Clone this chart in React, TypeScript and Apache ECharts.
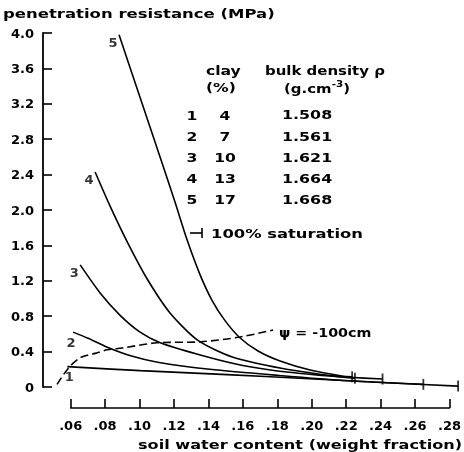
import React, { useEffect, useRef } from "react";
import * as echarts from "echarts";

// ---- data ----
const curveNames = ["1", "2", "3", "4", "5"];
const curve1: number[][] = [[0.058, 0.23], [0.1, 0.185], [0.15, 0.14], [0.2, 0.09], [0.24, 0.05], [0.283, 0.01]];
const curve2: number[][] = [[0.0613, 0.62], [0.07, 0.55], [0.081, 0.45], [0.095, 0.35], [0.11, 0.28], [0.14, 0.2], [0.18, 0.13], [0.22, 0.07], [0.263, 0.03]];
const curve3: number[][] = [[0.0654, 1.38], [0.077, 1.06], [0.0884, 0.81], [0.0999, 0.62], [0.1115, 0.5], [0.133, 0.37], [0.155, 0.26], [0.176, 0.19], [0.2, 0.14], [0.22, 0.11], [0.2395, 0.09]];
const curve4: number[][] = [[0.074, 2.43], [0.0825, 2.05], [0.093, 1.62], [0.104, 1.22], [0.117, 0.84], [0.133, 0.53], [0.153, 0.34], [0.182, 0.21], [0.213, 0.12], [0.2236, 0.1]];
const curve5: number[][] = [[0.0878, 3.98], [0.0999, 3.27], [0.1114, 2.6], [0.12, 2.09], [0.127, 1.66], [0.1344, 1.27], [0.1413, 0.98], [0.1488, 0.75], [0.1575, 0.554], [0.1678, 0.407], [0.1805, 0.294], [0.1978, 0.192], [0.2162, 0.124], [0.222, 0.115]];
const psiCurve: number[][] = [[0.0521, 0.03], [0.0585, 0.21], [0.0654, 0.33], [0.074, 0.38], [0.081, 0.42], [0.0896, 0.44], [0.1098, 0.5], [0.1345, 0.51], [0.1575, 0.565], [0.1765, 0.644]];
const curves = [curve1, curve2, curve3, curve4, curve5];

const clayPct = ["4", "7", "10", "13", "17"];
const bulkDensity = ["1.508", "1.561", "1.621", "1.664", "1.668"];
const xTickValues = [0.06, 0.08, 0.1, 0.12, 0.14, 0.16, 0.18, 0.2, 0.22, 0.24, 0.26, 0.28];
const yTickValues = [0, 0.4, 0.8, 1.2, 1.6, 2.0, 2.4, 2.8, 3.2, 3.6, 4.0];

const yTitle = "penetration resistance (MPa)";
const xTitle = "soil water content (weight fraction)";
const psiLabel = "ψ = -100cm";
const satLabel = "100% saturation";

const FONT = "DejaVu Sans";
const labelOffsets = [[2, 10], [-2, 10], [-6, 8], [-6, 8], [-6, 8]];

export default function App() {
  const ref = useRef<HTMLDivElement>(null);
  useEffect(() => {
    if (!ref.current) return;
    const chart = echarts.init(ref.current, undefined, { renderer: "svg" });
    const txt = { fontFamily: FONT, fontWeight: "bold" as const, fontSize: 13, fill: "#000" };
    const T = (text: string, x: number, y: number, sx: number, align: string = "left", extra: any = {}) => ({
      type: "text", x, y, scaleX: sx,
      style: { ...txt, text, align, verticalAlign: "middle", ...extra },
    });

    const tableRows: any[] = [];
    bulkDensity.forEach((d, i) => {
      const y = 115 + i * 21.2;
      tableRows.push(T(curveNames[i], 192, y, 1.2, "center"));
      tableRows.push(T(clayPct[i], 225, y, 1.2, "center"));
      tableRows.push(T(d, 282, y, 1.22));
    });

    chart.setOption({
      animation: false,
      grid: [
        { left: 43, top: 33, width: 417, height: 354 },
        { left: 70.7, top: 400, width: 382.3, height: 8 },
      ],
      xAxis: [
        { type: "value", gridIndex: 0, min: 0.044, max: 0.2841, show: false },
        {
          type: "value", gridIndex: 1, min: 0.06, max: 0.28, interval: 0.02,
          position: "bottom",
          axisLine: { show: true, lineStyle: { color: "#000", width: 1.6 } },
          axisTick: { show: true, inside: true, length: 9, lineStyle: { color: "#000", width: 1.6 } },
          splitLine: { show: false },
          axisLabel: {
            margin: 11, color: "#000", fontFamily: FONT, fontWeight: "bold", fontSize: 13,
            formatter: (v: number) => {
              const m = xTickValues.find((t) => Math.abs(t - v) < 1e-6);
              return m === undefined ? "" : m.toFixed(2).replace(/^0/, "");
            },
          },
        },
      ],
      yAxis: [
        {
          type: "value", gridIndex: 0, min: 0, max: 4, interval: 0.4,
          axisLine: { show: true, lineStyle: { color: "#000", width: 1.8 } },
          axisTick: { show: true, inside: true, length: 9, lineStyle: { color: "#000", width: 1.6 } },
          splitLine: { show: false },
          axisLabel: {
            margin: 9, color: "#000", fontFamily: FONT, fontWeight: "bold", fontSize: 13,
            formatter: (v: number) => {
              const m = yTickValues.find((t) => Math.abs(t - v) < 1e-6);
              if (m === undefined) return "";
              return m === 0 ? "0" : m.toFixed(1);
            },
          },
        },
        { type: "value", gridIndex: 1, show: false, min: 0, max: 1 },
      ],
      series: [
        ...curves.map((c, i) => ({
          type: "line", name: curveNames[i], data: c, xAxisIndex: 0, yAxisIndex: 0,
          symbol: "none", smooth: 0.25, lineStyle: { color: "#000", width: 1.6 }, z: 3,
        })),
        {
          type: "line", name: "psi", data: psiCurve, xAxisIndex: 0, yAxisIndex: 0,
          symbol: "none", smooth: 0.3, lineStyle: { color: "#000", width: 1.6, type: [8, 4] },
        },
        {
          type: "scatter", name: "saturation", xAxisIndex: 0, yAxisIndex: 0,
          data: curves.map((c) => c[c.length - 1]),
          symbol: "rect", symbolSize: [1.8, 11], itemStyle: { color: "#000" }, silent: true,
        },
        {
          type: "scatter", name: "labels", xAxisIndex: 0, yAxisIndex: 0,
          data: curves.map((c, i) => ({
            value: c[0],
            label: { show: true, position: "inside", offset: labelOffsets[i], formatter: curveNames[i] },
          })),
          symbolSize: 1, itemStyle: { color: "rgba(0,0,0,0)" },
          label: { color: "#000", fontFamily: FONT, fontWeight: "bold", fontSize: 13 },
          silent: true,
        },
      ],
      graphic: [
        T(yTitle, 3, 14, 1.27),
        T(xTitle, 138, 444, 1.24),
        T("clay", 206, 70, 1.2),
        T("(%)", 206, 87, 1.2),
        T("bulk density ρ", 265, 70, 1.15),
        {
          type: "text", x: 284, y: 88, scaleX: 1.15,
          style: {
            ...txt, text: "(g.cm{sup|-3})", verticalAlign: "middle",
            rich: { sup: { fontFamily: FONT, fontWeight: "bold", fontSize: 9, padding: [0, 0, 9, 0] } },
          },
        },
        ...tableRows,
        { type: "line", shape: { x1: 190, y1: 233, x2: 202, y2: 233 }, style: { stroke: "#000", lineWidth: 1.6 } },
        { type: "line", shape: { x1: 202, y1: 228, x2: 202, y2: 238 }, style: { stroke: "#000", lineWidth: 1.6 } },
        T(satLabel, 211, 233, 1.26),
        T(psiLabel, 279, 332, 1.1),
      ],
    });
    return () => chart.dispose();
  }, []);
  return <div ref={ref} style={{ position: "fixed", left: 0, top: 0, width: 464, height: 452 }} />;
}
